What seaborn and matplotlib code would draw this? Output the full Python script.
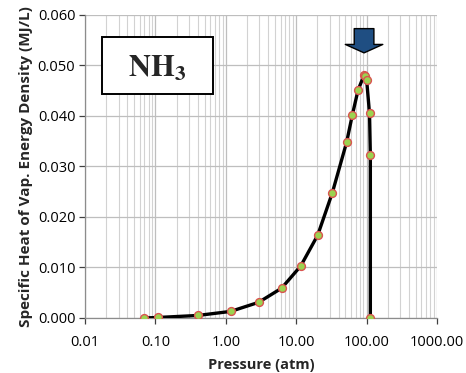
import matplotlib
matplotlib.use("Agg")
import matplotlib.pyplot as plt
from matplotlib.patches import Rectangle
from matplotlib.ticker import FixedLocator, LogLocator, NullFormatter
import seaborn as sns
import pandas as pd

# NH3 saturation data
pressure_atm = [0.068, 0.109, 0.40, 1.17, 2.93, 6.2, 11.6, 20.2, 32.6, 52.0,
                62.7, 75.5, 92.0, 96.0, 100.0, 110.0, 113.0, 113.0]
energy_density = [0.0000, 0.0001, 0.0005, 0.0013, 0.0031, 0.0059, 0.0103, 0.0164,
                  0.0248, 0.0348, 0.0402, 0.0451, 0.0481, 0.0480, 0.0472, 0.0405,
                  0.0323, 0.0000]
x_ticks = [0.01, 0.1, 1, 10, 100, 1000]
x_tick_labels = ["0.01", "0.10", "1.00", "10.00", "100.00", "1000.00"]
y_ticks = [0.0, 0.01, 0.02, 0.03, 0.04, 0.05, 0.06]
y_tick_labels = ["0.000", "0.010", "0.020", "0.030", "0.040", "0.050", "0.060"]

df = pd.DataFrame({"pressure": pressure_atm, "density": energy_density})

sns.set_style("white")
plt.rcParams["font.family"] = ["Open Sans", "DejaVu Sans"]

fig = plt.figure(figsize=(4.66, 3.73), dpi=100)
ax = fig.add_axes([0.1824, 0.1475, 0.7554, 0.8123])

sns.lineplot(data=df, x="pressure", y="density", sort=False, estimator=None,
             color="black", linewidth=2.4, ax=ax, zorder=3)
sns.scatterplot(data=df, x="pressure", y="density", color="#9BD34F",
                edgecolor="#D9534F", linewidth=1.0, s=32, ax=ax, zorder=4)

ax.set_xscale("log")
ax.set_xlim(0.01, 1000)
ax.set_ylim(0, 0.06)
ax.xaxis.set_major_locator(FixedLocator(x_ticks))
ax.set_xticklabels(x_tick_labels)
ax.xaxis.set_minor_locator(LogLocator(base=10, subs=range(2, 10)))
ax.xaxis.set_minor_formatter(NullFormatter())
ax.set_yticks(y_ticks)
ax.set_yticklabels(y_tick_labels)

ax.grid(True, which="major", axis="both", color="#BEBEBE", linewidth=0.9)
ax.grid(True, which="minor", axis="x", color="#D2D2D2", linewidth=0.8)
ax.tick_params(axis="both", which="major", labelsize=10.5, colors="#404040",
               length=4, width=0.9, direction="out", left=True, bottom=True,
               labelcolor="black")
ax.tick_params(axis="x", which="minor", length=0)
ax.tick_params(axis="x", pad=8)
ax.tick_params(axis="y", pad=3)
for side in ["top", "right"]:
    ax.spines[side].set_visible(False)
for side in ["left", "bottom"]:
    ax.spines[side].set_color("#8C8C8C")
    ax.spines[side].set_linewidth(0.9)

ax.set_xlabel("Pressure (atm)", fontsize=10.5, fontweight="bold", labelpad=6)
ax.set_ylabel("Specific Heat of Vap. Energy Density (MJ/L)", fontsize=11,
              fontweight="bold", labelpad=3)

# species label box
ax.add_patch(Rectangle((0.048, 0.739), 0.315, 0.188, transform=ax.transAxes,
                       facecolor="white", edgecolor="black", linewidth=1.4,
                       zorder=5))
ax.text(0.206, 0.825, r"$\mathbf{NH_3}$", transform=ax.transAxes, ha="center",
        va="center", fontsize=22, math_fontfamily="stix", zorder=6)

# arrow marking the peak
ax.annotate("", xy=(92, 0.0525), xytext=(92, 0.0573),
            arrowprops=dict(arrowstyle="simple,head_length=0.45,head_width=2.0,tail_width=1.05",
                            mutation_scale=13.5, facecolor="#1F4E82",
                            edgecolor="black", linewidth=1.0, shrinkA=0, shrinkB=0),
            zorder=6)

fig.savefig("out.png", dpi=100)
